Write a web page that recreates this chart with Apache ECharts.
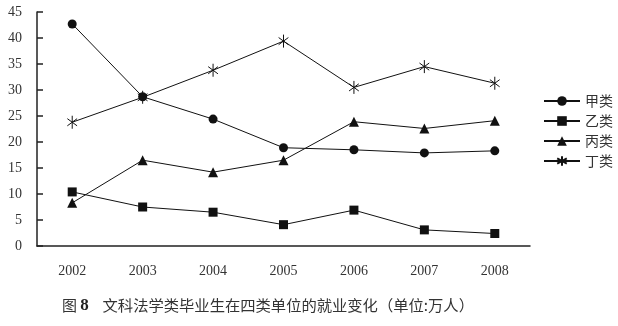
<!DOCTYPE html>
<html><head><meta charset="utf-8">
<script src="https://cdn.jsdelivr.net/npm/echarts@6/dist/echarts.min.js"></script>
<style>html,body{margin:0;padding:0;background:#fff}#c{width:618px;height:326px}</style>
</head><body><div id="c"></div>
<script>
var years = ['2002','2003','2004','2005','2006','2007','2008'];
var seriesNames = ['甲类','乙类','丙类','丁类'];
var jia  = [42.7, 28.7, 24.4, 18.9, 18.5, 17.9, 18.3];
var yi   = [10.4, 7.5, 6.5, 4.1, 6.9, 3.1, 2.4];
var bing = [8.3, 16.5, 14.2, 16.5, 23.9, 22.6, 24.1];
var ding = [23.8, 28.6, 33.8, 39.4, 30.5, 34.5, 31.3];
var yTicks = [0, 45, 5];

var star = 'path://M10,0L10,20M2.5,4.5L17.5,15.5M17.5,4.5L2.5,15.5';
var serif = '"Liberation Serif", "DejaVu Serif", serif';
var cjk = '"Noto Sans CJK SC", sans-serif';

function mk(name, data, symbol, size, hollow) {
  return {
    name: name, type: 'line', data: data, symbol: symbol, symbolSize: size,
    symbolKeepAspect: true, showAllSymbol: true,
    lineStyle: { color: '#111', width: 1 },
    itemStyle: hollow ? { color: 'transparent', borderColor: '#111', borderWidth: 1 } : { color: '#111', borderColor: '#111', borderWidth: 0 },
    emphasis: { disabled: true }, animation: false
  };
}

var chart = echarts.init(document.getElementById('c'), null, { renderer: 'canvas' });
chart.setOption({
  backgroundColor: '#fff',
  animation: false,
  grid: { left: 37, right: 88, top: 12, bottom: 80, containLabel: false },
  title: {
    text: '{a|图 }{b|8}{c|    文科法学类毕业生在四类单位的就业变化（单位:万人）}',
    left: 57, top: 292,
    textStyle: {
      fontWeight: 'normal',
      rich: {
        a: { fontFamily: cjk, fontSize: 15, fontWeight: 'normal', color: '#333' },
        b: { fontFamily: serif, fontSize: 17, fontWeight: 'bold', color: '#222' },
        c: { fontFamily: cjk, fontSize: 15.3, fontWeight: 'normal', color: '#333' }
      }
    }
  },
  legend: {
    orient: 'vertical', left: 538, top: 89, itemGap: 6,
    itemWidth: 36, itemHeight: 12,
    textStyle: { fontFamily: cjk, fontSize: 14, color: '#333' },
    data: seriesNames
  },
  xAxis: {
    type: 'category', data: years, boundaryGap: true,
    axisLine: { lineStyle: { color: '#222', width: 1.5 } },
    axisTick: { inside: true, length: 6, lineStyle: { color: '#222', width: 1.5 } },
    axisLabel: { fontFamily: serif, fontSize: 14, color: '#333', margin: 18 },
    splitLine: { show: false }
  },
  yAxis: {
    type: 'value', min: yTicks[0], max: yTicks[1], interval: yTicks[2],
    axisLine: { show: true, lineStyle: { color: '#222', width: 1.5 } },
    axisTick: { show: true, inside: true, length: 6, lineStyle: { color: '#222', width: 1.5 } },
    axisLabel: { fontFamily: serif, fontSize: 14, color: '#333', margin: 15 },
    splitLine: { show: false }
  },
  series: [
    mk(seriesNames[0], jia, 'circle', 9, false),
    mk(seriesNames[1], yi, 'rect', 9, false),
    mk(seriesNames[2], bing, 'triangle', 10, false),
    mk(seriesNames[3], ding, star, 13, true)
  ]
});
</script></body></html>
